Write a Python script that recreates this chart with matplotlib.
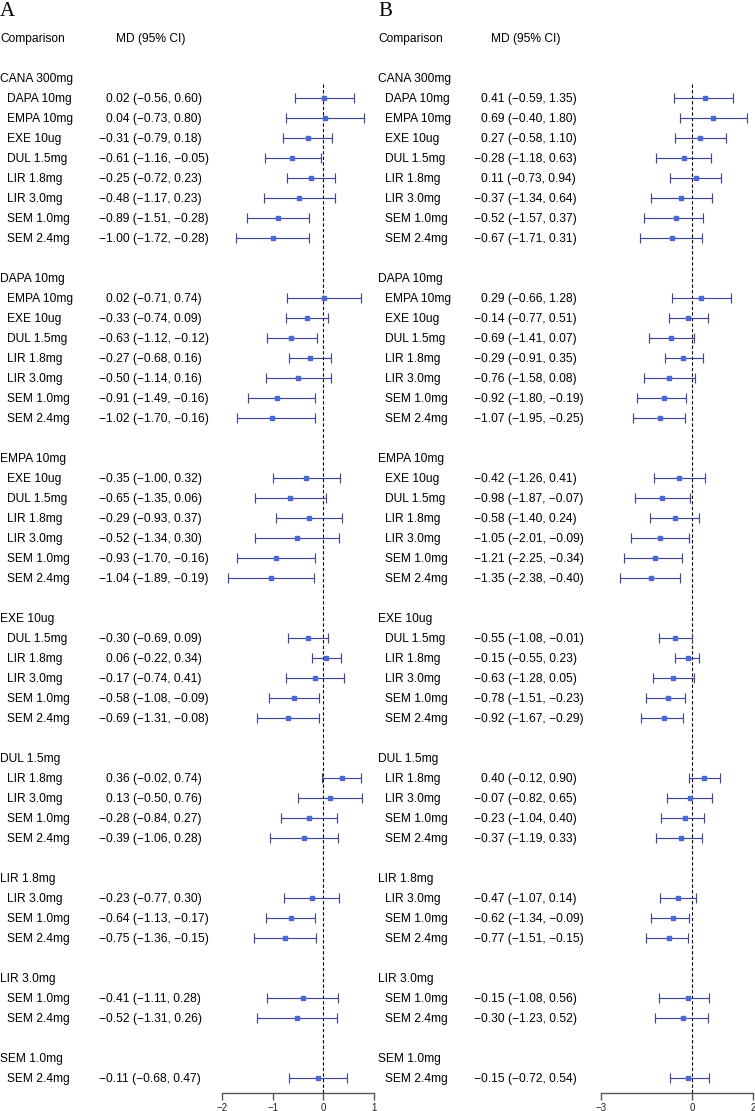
import matplotlib
matplotlib.use('Agg')
import matplotlib.pyplot as plt

plt.rcParams['font.family'] = 'Liberation Sans'

# treatments in comparison order
treatments = ['CANA 300mg', 'DAPA 10mg', 'EMPA 10mg', 'EXE 10ug', 'DUL 1.5mg',
              'LIR 1.8mg', 'LIR 3.0mg', 'SEM 1.0mg', 'SEM 2.4mg']

# panel A: MD and 95% CI
md_a = [0.02, 0.04, -0.31, -0.61, -0.25, -0.48, -0.89, -1.00,
        0.02, -0.33, -0.63, -0.27, -0.50, -0.91, -1.02,
        -0.35, -0.65, -0.29, -0.52, -0.93, -1.04,
        -0.30, 0.06, -0.17, -0.58, -0.69,
        0.36, 0.13, -0.28, -0.39,
        -0.23, -0.64, -0.75,
        -0.41, -0.52,
        -0.11]
lo_a = [-0.56, -0.73, -0.79, -1.16, -0.72, -1.17, -1.51, -1.72,
        -0.71, -0.74, -1.12, -0.68, -1.14, -1.49, -1.70,
        -1.00, -1.35, -0.93, -1.34, -1.70, -1.89,
        -0.69, -0.22, -0.74, -1.08, -1.31,
        -0.02, -0.50, -0.84, -1.06,
        -0.77, -1.13, -1.36,
        -1.11, -1.31,
        -0.68]
hi_a = [0.60, 0.80, 0.18, -0.05, 0.23, 0.23, -0.28, -0.28,
        0.74, 0.09, -0.12, 0.16, 0.16, -0.16, -0.16,
        0.32, 0.06, 0.37, 0.30, -0.16, -0.19,
        0.09, 0.34, 0.41, -0.09, -0.08,
        0.74, 0.76, 0.27, 0.28,
        0.30, -0.17, -0.15,
        0.28, 0.26,
        0.47]

# panel B
md_b = [0.41, 0.69, 0.27, -0.28, 0.11, -0.37, -0.52, -0.67,
        0.29, -0.14, -0.69, -0.29, -0.76, -0.92, -1.07,
        -0.42, -0.98, -0.58, -1.05, -1.21, -1.35,
        -0.55, -0.15, -0.63, -0.78, -0.92,
        0.40, -0.07, -0.23, -0.37,
        -0.47, -0.62, -0.77,
        -0.15, -0.30,
        -0.15]
lo_b = [-0.59, -0.40, -0.58, -1.18, -0.73, -1.34, -1.57, -1.71,
        -0.66, -0.77, -1.41, -0.91, -1.58, -1.80, -1.95,
        -1.26, -1.87, -1.40, -2.01, -2.25, -2.38,
        -1.08, -0.55, -1.28, -1.51, -1.67,
        -0.12, -0.82, -1.04, -1.19,
        -1.07, -1.34, -1.51,
        -1.08, -1.23,
        -0.72]
hi_b = [1.35, 1.80, 1.10, 0.63, 0.94, 0.64, 0.37, 0.31,
        1.28, 0.51, 0.07, 0.35, 0.08, -0.19, -0.25,
        0.41, -0.07, 0.24, -0.09, -0.34, -0.40,
        -0.01, 0.23, 0.05, -0.23, -0.29,
        0.90, 0.65, 0.40, 0.33,
        0.14, -0.09, -0.15,
        0.56, 0.52,
        0.54]

ticks_a = [-2, -1, 0, 1]
ticks_b = [-3, 0, 2]

W, H = 755, 1111
ROW0, ROWH = 38, 20          # pixel y of header row, row height
FS = 8.64
LINE_C = '#3e469e'
BOX_C = '#4a68d6'


def fmt(v):
    return f'{v:.2f}'.replace('-', '\u2212')


# row layout: groups with their comparisons, blank line between
group_rows, comp_rows, comp_names = [], [], []
row = 2
for gi, g in enumerate(treatments[:-1]):
    group_rows.append((row, g))
    row += 1
    for c in treatments[gi + 1:]:
        comp_rows.append(row)
        comp_names.append(c)
        row += 1
    row += 1


def ypix(r):
    return ROW0 + ROWH * r


fig = plt.figure(figsize=(W / 100, H / 100), dpi=100)
bg = fig.add_axes([0, 0, 1, 1])
bg.set_xlim(0, W)
bg.set_ylim(H, 0)
bg.axis('off')


def draw_panel(x0, x_md, ax_x0, ax_x1, xlim, ticks, md, lo, hi, letter):
    off = 4.3  # half cap height, to centre text on row
    bg.text(x0, 12, letter, family='Liberation Serif', fontsize=15,
            va='center', ha='left')
    bg.text(x0, ypix(0) + off, 'Comparison', fontsize=FS, va='baseline')
    bg.text(x_md + 17, ypix(0) + off, 'MD (95% CI)', fontsize=FS, va='baseline')
    for r, g in group_rows:
        bg.text(x0, ypix(r) + off, g, fontsize=FS, va='baseline')
    for r, name, m, l, h in zip(comp_rows, comp_names, md, lo, hi):
        bg.text(x0 + 7, ypix(r) + off, name, fontsize=FS, va='baseline')
        s = f'{fmt(m)} ({fmt(l)}, {fmt(h)})'
        bg.text(x_md + (0 if m < 0 else 7), ypix(r) + off, s,
                fontsize=FS, va='baseline')

    top, bot = 28, 1093
    ax = fig.add_axes([ax_x0 / W, (H - bot) / H, (ax_x1 - ax_x0) / W, (bot - top) / H])
    ax.set_xlim(*xlim)
    ax.set_ylim((bot - ROW0) / ROWH, (top - ROW0) / ROWH)
    ax.patch.set_alpha(0)
    for sp in ['top', 'left', 'right']:
        ax.spines[sp].set_visible(False)
    ax.spines['bottom'].set_color('#555555')
    ax.spines['bottom'].set_linewidth(1)
    ax.set_yticks([])
    ax.set_xticks(ticks)
    ax.set_xticklabels([str(t).replace('-', '\u2212') for t in ticks])
    ax.tick_params(axis='x', length=5, width=1, color='#555555', labelsize=7,
                   labelcolor='#222222', pad=2)

    ax.vlines(0, 2.3, (bot - ROW0) / ROWH, colors='black', linestyles=(0, (3, 2)),
              linewidth=0.8)
    err = [[m - l for m, l in zip(md, lo)], [h - m for m, h in zip(md, hi)]]
    ax.errorbar(md, comp_rows, xerr=err, fmt='none', ecolor=LINE_C,
                elinewidth=0.85, capsize=3.4, capthick=0.85)
    ax.plot(md, comp_rows, 's', color=BOX_C, markersize=3.4, zorder=3)


draw_panel(0, 99, 222, 374, (-2, 1), ticks_a, md_a, lo_a, hi_a, 'A')
draw_panel(378, 474, 601, 753, (-3, 2), ticks_b, md_b, lo_b, hi_b, 'B')

fig.savefig('out.png', dpi=100)
